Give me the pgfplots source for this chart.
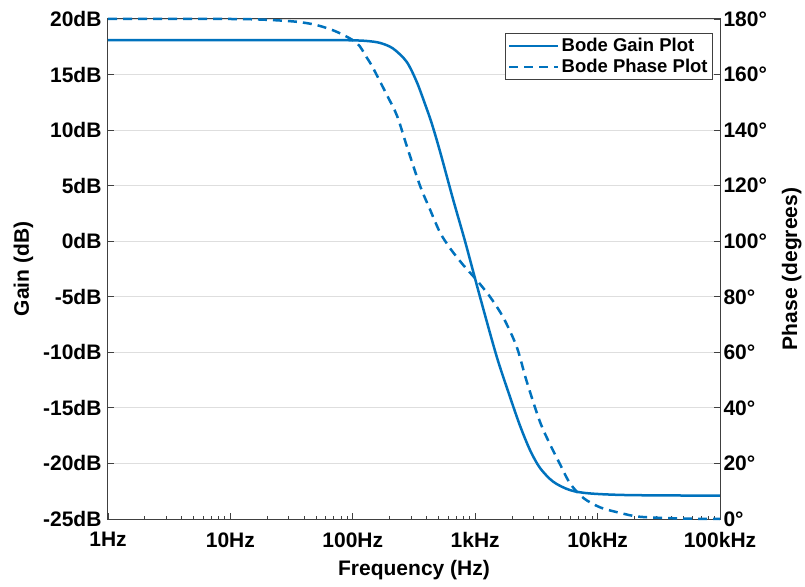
\documentclass[border=0pt]{standalone}
\usepackage{pgfplots}
\pgfplotsset{compat=1.18}
\usepackage{fontspec}
\setmainfont{Liberation Sans}
\definecolor{mblue}{HTML}{0072BD}
\definecolor{axgray}{HTML}{404040}

% gain (dB) vs frequency (Hz)
\pgfplotstableread{
f      g
1      18.1
10     18.1
60     18.1
100    18.08
130.6  18.02
166.7  17.85
212.8  17.35
275.4  16.15
332.7  14.35
389.0  12.35
441.6  10.6
515.2  8.1
662.2  3.7
826.0  0.0
1094   -5.0
1500   -10.4
1923   -14.0
2323   -16.6
2805   -18.8
3381   -20.4
4345   -21.65
5957   -22.4
8670   -22.7
18410  -22.85
100000 -22.9
}\gaintab

% phase (degrees) vs frequency (Hz)
\pgfplotstableread{
f      p
1      180
10     180
19.95  179.7
34.83  179.0
50.70  177.8
73.79  175.4
107.6  171.4
129.7  166.2
146.2  162.4
190.1  152.6
229.6  145.2
277.3  134.0
354.0  120.0
426.6  111.5
515.2  103.2
622.3  97.5
799.8  91.4
1028   86.0
1321   80.0
1698   72.5
2183   62.0
2636   49.5
3381   35.0
4074   27.0
4920   19.8
5957   12.8
7638   7.6
10470  4.2
15240  2.2
22180  0.8
46770  0.2
100000 0
}\phasetab

\begin{document}
\begin{tikzpicture}
\begin{axis}[
  font=\fontsize{21}{25}\selectfont\bfseries,
  scale only axis, width=612pt, height=500pt,
  xmode=log, xmin=1, xmax=100000,
  axis line style={axgray, line width=1pt},
  tick style={axgray, line width=0.8pt},
  tick align=inside,
  major tick length=6pt, minor tick length=3.5pt,
  ymin=-25, ymax=20,
  xtick pos=bottom, ytick pos=left,
  xtick={1,10,100,1000,10000,100000},
  xticklabels={1Hz,10Hz,100Hz,1kHz,10kHz,100kHz},
  minor xtick={2,3,4,5,6,7,8,9,20,30,40,50,60,70,80,90,200,300,400,500,600,700,800,900,2000,3000,4000,5000,6000,7000,8000,9000,20000,30000,40000,50000,60000,70000,80000,90000},
  ytick={-25,-20,...,20},
  yticklabels={-25dB,-20dB,-15dB,-10dB,-5dB,0dB,5dB,10dB,15dB,20dB},
  xticklabel style={yshift=-10pt},
  yticklabel style={xshift=-3pt},
  ymajorgrids, grid style={black!13, line width=0.8pt},
  xlabel={Frequency (Hz)}, ylabel={Gain (dB)},
  xlabel style={yshift=-5pt},
  ylabel style={yshift=3pt},
]
\coordinate (sw) at (rel axis cs:0,0);
\addplot[mblue, line width=2.5pt, smooth, tension=0.5] table[x=f, y=g] {\gaintab};
\end{axis}
\begin{axis}[
  font=\fontsize{21}{25}\selectfont\bfseries,
  scale only axis, width=612pt, height=500pt,
  xmode=log, xmin=1, xmax=100000,
  axis line style={axgray, line width=1pt},
  tick style={axgray, line width=0.8pt},
  tick align=inside,
  major tick length=6pt,
  ymin=0, ymax=180,
  axis x line=none, axis y line*=right,
  ytick={0,20,...,180},
  yticklabels={0°,20°,40°,60°,80°,100°,120°,140°,160°,180°},
  ylabel={Phase (degrees)},
  ylabel style={yshift=-8pt},
  clip=false,
  legend style={at={(rel axis cs:0.9886,0.972)}, anchor=north east,
    draw=axgray, line width=0.8pt, fill=white,
    font=\fontsize{18.5}{21}\selectfont\bfseries,
    inner sep=3pt, row sep=2pt, legend cell align=left},
  legend image code/.code={\draw[#1] (-2pt,0pt) -- (47pt,0pt);},
]
\addlegendimage{mblue, line width=2.5pt}
\addlegendentry{Bode Gain Plot}
\addplot[mblue, line width=2.5pt, dash pattern=on 9pt off 6pt, smooth, tension=0.5] table[x=f, y=p] {\phasetab};
\addlegendentry{Bode Phase Plot}
\end{axis}
\path ([shift={(-108pt,-67pt)}]sw) rectangle ([shift={(697pt,519pt)}]sw);
\end{tikzpicture}
\end{document}
